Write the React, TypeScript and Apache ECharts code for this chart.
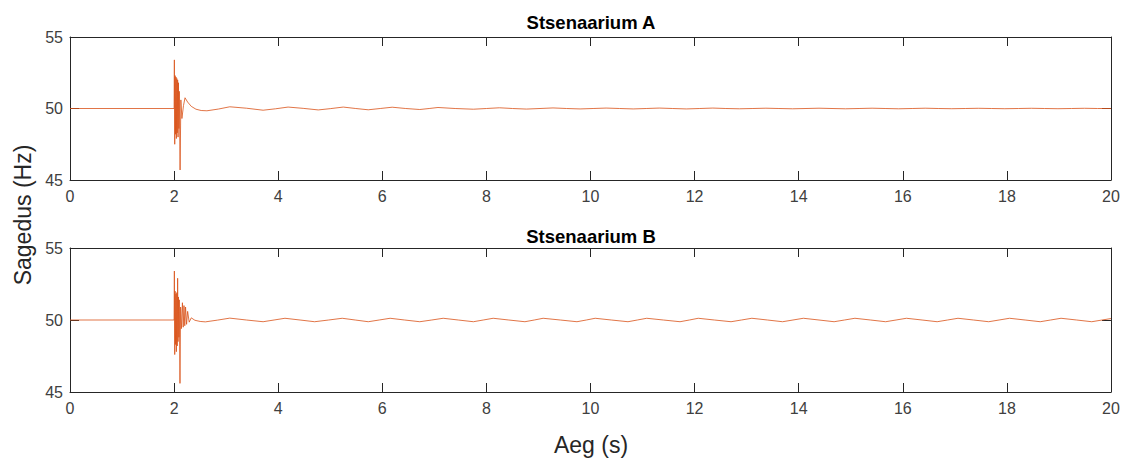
import React, { useEffect, useRef } from "react";
import * as echarts from "echarts";

const titles = ["Stsenaarium A", "Stsenaarium B"];
const xTicks = [0, 2, 4, 6, 8, 10, 12, 14, 16, 18, 20];
const yTicks = [45, 50, 55];

const timeA = [
  0, 2.0, 2.005, 2.012, 2.02, 2.028, 2.036, 2.044, 2.052, 2.06, 2.068, 2.076, 2.084, 2.092, 2.1, 2.115,
  2.13, 2.15, 2.18, 2.21, 2.26, 2.33, 2.42, 2.52, 2.63, 2.85, 3.07, 3.39, 3.71, 3.95, 4.19, 4.48, 4.77,
  5.0, 5.25, 5.49, 5.73, 5.96, 6.19, 6.45, 6.72, 6.9, 7.07, 7.4, 7.75, 8.0, 8.25, 8.5, 8.77, 9.03, 9.28,
  9.54, 9.8, 10.05, 10.3, 10.56, 10.82, 11.07, 11.32, 11.58, 11.84, 12.1, 12.35, 12.6, 12.86, 13.12,
  13.37, 13.62, 13.88, 14.14, 14.39, 14.64, 14.9, 15.16, 15.41, 15.66, 15.92, 16.18, 16.43, 16.68,
  16.94, 17.2, 17.45, 17.7, 17.96, 18.22, 18.47, 18.72, 18.98, 19.24, 19.49, 19.74, 20.0,
];
const freqA = [
  50, 50, 53.4, 47.5, 52.3, 48.2, 52.2, 47.9, 52.1, 48.3, 52.0, 48.0, 51.8, 48.6, 51.2, 45.7,
  50.6, 49.3, 50.2, 50.75, 50.45, 50.15, 49.95, 49.86, 49.84, 49.96, 50.12, 50.02, 49.88, 49.98, 50.1,
  50.01, 49.9, 49.99, 50.1, 50.0, 49.91, 50.0, 50.09, 50.0, 49.93, 50.0, 50.07, 50.0, 49.95, 50.0,
  50.05, 50.0, 49.96, 50.0, 50.04, 50.0, 49.97, 50.0, 50.03, 50.0, 49.97, 50.0, 50.03, 50.0, 49.97,
  50.0, 50.03, 50.0, 49.98, 50.0, 50.02, 50.0, 49.98, 50.0, 50.02, 50.0, 49.98, 50.0, 50.02, 50.0,
  49.98, 50.0, 50.02, 50.0, 49.985, 50.0, 50.015, 50.0, 49.985, 50.0, 50.015, 50.0, 49.985, 50.0,
  50.015, 50.0, 50.0,
];

const timeB = [
  0, 2.0, 2.005, 2.012, 2.02, 2.028, 2.036, 2.044, 2.052, 2.06, 2.068, 2.076, 2.084, 2.092, 2.1, 2.113,
  2.125, 2.14, 2.16, 2.175, 2.19, 2.205, 2.22, 2.24, 2.26, 2.29, 2.33, 2.4, 2.5, 2.6, 2.83, 3.07, 3.39,
  3.71, 3.92, 4.13, 4.42, 4.7, 4.97, 5.23, 5.48, 5.73, 5.94, 6.15, 6.43, 6.72, 6.95, 7.17, 7.46, 7.75,
  7.94, 8.13, 8.43, 8.74, 8.92, 9.09, 9.42, 9.74, 9.92, 10.09, 10.4, 10.72, 10.9, 11.08, 11.4, 11.72,
  11.9, 12.07, 12.38, 12.7, 12.9, 13.1, 13.4, 13.69, 13.89, 14.09, 14.39, 14.68, 14.88, 15.08, 15.38,
  15.67, 15.87, 16.07, 16.37, 16.66, 16.86, 17.06, 17.36, 17.65, 17.85, 18.05, 18.35, 18.64, 18.84,
  19.04, 19.34, 19.63, 19.83, 20.0,
];
const freqB = [
  50, 50, 53.4, 47.6, 52.0, 48.3, 51.8, 47.8, 51.9, 48.2, 52.9, 48.5, 51.6, 48.8, 51.4, 45.6,
  50.9, 49.4, 51.2, 49.5, 51.0, 49.6, 50.9, 49.7, 50.6, 49.85, 50.15, 49.98, 49.9, 49.87, 49.99, 50.13,
  50.0, 49.88, 50.0, 50.12, 50.0, 49.88, 50.0, 50.12, 50.0, 49.88, 50.0, 50.12, 50.0, 49.88, 50.0,
  50.12, 50.0, 49.88, 50.0, 50.12, 50.0, 49.88, 50.0, 50.12, 50.0, 49.88, 50.0, 50.12, 50.0, 49.88,
  50.0, 50.12, 50.0, 49.88, 50.0, 50.12, 50.0, 49.88, 50.0, 50.12, 50.0, 49.88, 50.0, 50.12, 50.0,
  49.88, 50.0, 50.12, 50.0, 49.88, 50.0, 50.12, 50.0, 49.88, 50.0, 50.12, 50.0, 49.88, 50.0, 50.12,
  50.0, 49.88, 50.0, 50.12, 50.0, 49.88, 50.0, 50.1,
];

const FONT = "Liberation Sans, Arial, Helvetica, sans-serif";
const AX = "#262626";
const LBL = "#404040";
const LINE = "#D95319";

export default function App() {
  const ref = useRef<HTMLDivElement>(null);
  useEffect(() => {
    if (!ref.current) return;
    const chart = echarts.init(ref.current, null, { renderer: "svg" });
    const grids = [
      { left: 70, top: 37, width: 1041, height: 143 },
      { left: 70, top: 248, width: 1041, height: 144 },
    ];
    const xAxes: any[] = [];
    const yAxes: any[] = [];
    grids.forEach((_, gi) => {
      const base = {
        gridIndex: gi,
        type: "value",
        min: 0,
        max: 20,
        interval: 2,
        splitLine: { show: false },
        axisLine: { show: true, onZero: false, lineStyle: { color: AX, width: 1 } },
        axisTick: { show: true, inside: true, length: 9, lineStyle: { color: AX } },
      };
      xAxes.push({
        ...base,
        position: "bottom",
        axisLabel: { show: true, color: LBL, fontSize: 16, fontFamily: FONT, margin: 8, formatter: (v: number) => (xTicks.includes(v) ? String(v) : "") },
      });
      xAxes.push({ ...base, position: "top", axisLabel: { show: false } });
      const ybase = {
        gridIndex: gi,
        type: "value",
        min: 45,
        max: 55,
        interval: 5,
        splitLine: { show: false },
        axisLine: { show: true, onZero: false, lineStyle: { color: AX, width: 1 } },
        axisTick: { show: true, inside: true, length: 9, lineStyle: { color: AX } },
      };
      yAxes.push({
        ...ybase,
        position: "left",
        axisLabel: { show: true, color: LBL, fontSize: 16, fontFamily: FONT, margin: 7, formatter: (v: number) => (yTicks.includes(v) ? String(v) : "") },
      });
      yAxes.push({ ...ybase, position: "right", axisLabel: { show: false } });
    });
    const mk = (t: number[], f: number[]) => t.map((x, i) => [x, f[i]]);
    chart.setOption({
      animation: false,
      backgroundColor: "#ffffff",
      grid: grids,
      xAxis: xAxes,
      yAxis: yAxes,
      title: titles.map((txt, i) => ({
        text: txt,
        left: 591,
        textAlign: "center",
        padding: 0,
        top: i === 0 ? 13 : 227,
        textStyle: { fontSize: 18.5, fontWeight: "bold", color: "#000", fontFamily: FONT },
      })),
      series: [
        {
          type: "line",
          xAxisIndex: 0,
          yAxisIndex: 0,
          data: mk(timeA, freqA),
          showSymbol: false,
          lineStyle: { color: LINE, width: 1, opacity: 0.8 },
        },
        {
          type: "line",
          xAxisIndex: 2,
          yAxisIndex: 2,
          data: mk(timeB, freqB),
          showSymbol: false,
          lineStyle: { color: LINE, width: 1, opacity: 0.8 },
        },
      ],
      graphic: [
        {
          type: "text",
          x: 23,
          y: 215,
          rotation: Math.PI / 2,
          style: { text: "Sagedus (Hz)", fontSize: 23, fontFamily: FONT, fill: "#262626", align: "center", verticalAlign: "middle" },
        },
        {
          type: "text",
          x: 591,
          y: 445,
          style: { text: "Aeg (s)", fontSize: 23, fontFamily: FONT, fill: "#262626", align: "center", verticalAlign: "middle" },
        },
      ],
    });
    return () => chart.dispose();
  }, []);
  return <div ref={ref} style={{ position: "fixed", left: 0, top: 0, width: 1124, height: 461, background: "#fff" }} />;
}
